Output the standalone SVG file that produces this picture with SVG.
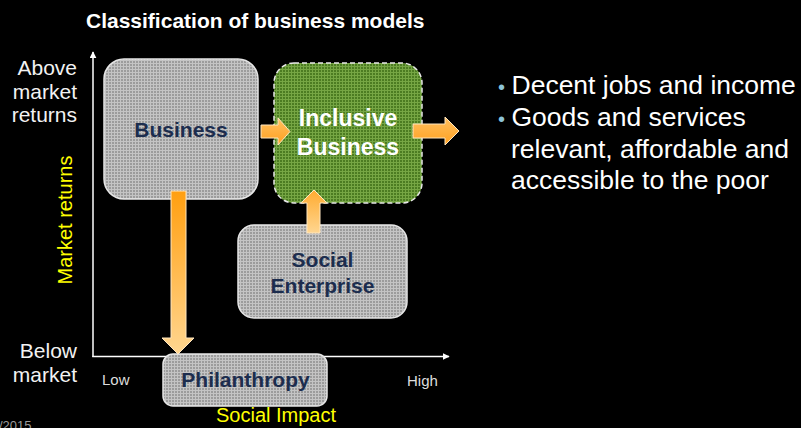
<svg xmlns="http://www.w3.org/2000/svg" width="801" height="428" viewBox="0 0 801 428">
  <defs>
    <pattern id="grayHatch" width="3" height="3" patternUnits="userSpaceOnUse">
      <rect width="3" height="3" fill="#9c9c9c"/>
      <rect width="3" height="1" fill="#c4c4c4"/>
      <rect width="1" height="3" fill="#c4c4c4"/>
    </pattern>
    <pattern id="greenHatch" width="3" height="3" patternUnits="userSpaceOnUse">
      <rect width="3" height="3" fill="#4c7c22"/>
      <rect width="3" height="1" fill="#76a644"/>
      <rect width="1" height="3" fill="#76a644"/>
    </pattern>
    <linearGradient id="gradDown" x1="0" y1="0" x2="0" y2="1">
      <stop offset="0" stop-color="#ff9f10"/>
      <stop offset="1" stop-color="#ffd690"/>
    </linearGradient>
    <linearGradient id="gradUp" x1="0" y1="1" x2="0" y2="0">
      <stop offset="0" stop-color="#ffd690"/>
      <stop offset="1" stop-color="#ffab30"/>
    </linearGradient>
    <linearGradient id="gradRight" x1="0" y1="0" x2="0" y2="1">
      <stop offset="0" stop-color="#ffc060"/>
      <stop offset="1" stop-color="#ffa020"/>
    </linearGradient>
    <marker id="axisHead" viewBox="0 0 10 10" refX="9" refY="5" markerWidth="7" markerHeight="7" markerUnits="userSpaceOnUse" orient="auto">
      <path d="M0,0 L10,5 L0,10 z" fill="#ffffff"/>
    </marker>
    <style>
      .box { stroke: #e6e6e6; stroke-width: 1.5; }
      .lbl { font-family: "Liberation Sans", Arial, sans-serif; font-weight: bold; font-size: 21px; fill: #1c2d4e; text-anchor: middle; }
      .axis { stroke: #ffffff; stroke-width: 1.5; fill: none; }
      .ax { font-family: "Liberation Sans", Arial, sans-serif; font-size: 21px; fill: #f2f2f2; }
      .yel { font-family: "Liberation Sans", Arial, sans-serif; font-size: 20px; fill: #ffff00; }
      .tick { font-family: "Liberation Sans", Arial, sans-serif; font-size: 15px; fill: #dddddd; }
      .list { font-family: "Liberation Sans", Arial, sans-serif; font-size: 26.5px; fill: #ffffff; }
      .arrow { stroke: #ffe6bf; stroke-width: 1; }
    </style>
  </defs>

  <rect width="801" height="428" fill="#000000"/>

  <text x="86" y="27.5" font-family="Liberation Sans, Arial, sans-serif" font-weight="bold" font-size="21" fill="#ffffff">Classification of business models</text>

  <g id="axes">
    <line class="axis" x1="93" y1="357" x2="93" y2="52" marker-end="url(#axisHead)"/>
    <line class="axis" x1="92.25" y1="356.5" x2="449" y2="356.5" marker-end="url(#axisHead)"/>
    <text class="ax" x="77" y="75" text-anchor="end">Above</text>
    <text class="ax" x="77" y="98.5" text-anchor="end">market</text>
    <text class="ax" x="77" y="122" text-anchor="end">returns</text>
    <text class="ax" x="77" y="358" text-anchor="end">Below</text>
    <text class="ax" x="77" y="382" text-anchor="end">market</text>
    <text class="yel" x="0" y="0" text-anchor="middle" transform="translate(72,220) rotate(-90)">Market returns</text>
    <text class="yel" x="276" y="422" text-anchor="middle">Social Impact</text>
    <text class="tick" x="102" y="385">Low</text>
    <text class="tick" x="407" y="386">High</text>
  </g>

  <g id="business">
    <rect class="box" x="104" y="59" width="154" height="140" rx="20" fill="url(#grayHatch)"/>
    <text class="lbl" x="181" y="137">Business</text>
  </g>

  <g id="inclusive-business">
    <rect x="274" y="63" width="148" height="140" rx="20" fill="url(#greenHatch)" stroke="#e8e8e8" stroke-width="1.5" stroke-dasharray="5,3"/>
    <text class="lbl" x="348" y="126" style="fill:#ffffff;font-size:23px">Inclusive</text>
    <text class="lbl" x="348" y="155" style="fill:#ffffff;font-size:23px">Business</text>
  </g>

  <g id="social-enterprise">
    <rect class="box" x="238" y="225" width="169" height="93" rx="16" fill="url(#grayHatch)"/>
    <text class="lbl" x="322.5" y="267">Social</text>
    <text class="lbl" x="322.5" y="293">Enterprise</text>
  </g>

  <g id="philanthropy">
    <rect class="box" x="163" y="354" width="164" height="52" rx="10" fill="url(#grayHatch)"/>
    <text class="lbl" x="245.5" y="387">Philanthropy</text>
  </g>

  <g id="connectors">
    <polygon class="arrow" fill="url(#gradRight)" points="261,125 278,125 278,118 290,131.5 278,145 278,138 261,138"/>
    <polygon class="arrow" fill="url(#gradRight)" points="413,124 445,124 445,117 459,131 445,145 445,138 413,138"/>
    <polygon class="arrow" fill="url(#gradDown)" points="171,191 186,191 186,338 194,338 178,354 162,338 171,338"/>
    <polygon class="arrow" fill="url(#gradUp)" points="307,233 307,203 301,203 314,190 327,203 320,203 320,233"/>
  </g>

  <g id="benefits">
    <text class="list" x="498" y="94"><tspan fill="#8cc3d8" font-size="20">•</tspan><tspan x="511.5">Decent jobs and income</tspan></text>
    <text class="list" x="498" y="126"><tspan fill="#8cc3d8" font-size="20">•</tspan><tspan x="511.5">Goods and services</tspan></text>
    <text class="list" x="511" y="157.5">relevant, affordable and</text>
    <text class="list" x="511" y="189">accessible to the poor</text>
  </g>

  <text x="-1" y="430" font-family="Liberation Sans, Arial, sans-serif" font-size="13" fill="#9a9a9a">/2015</text>
</svg>
